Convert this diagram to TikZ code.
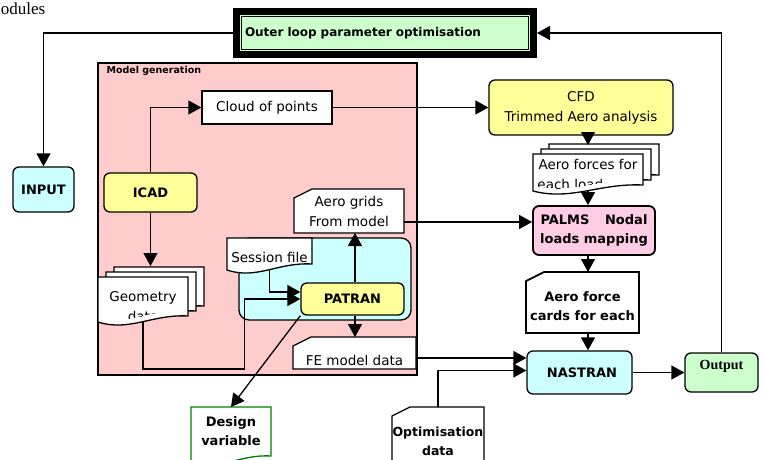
\documentclass[tikz,border=0pt]{standalone}
\usepackage{fontspec}
\setmainfont{DejaVu Sans}
\newfontfamily\timesfont{Liberation Serif}
\usepackage{tikz}
\usetikzlibrary{positioning,calc,arrows.meta}

\definecolor{cyanfill}{HTML}{CCFFFF}
\definecolor{yellowfill}{HTML}{FFFF99}
\definecolor{pinkfill}{HTML}{FFCCCC}
\definecolor{greenfill}{HTML}{CCFFCC}
\definecolor{palmsfill}{HTML}{FFCCE6}
\definecolor{designgreen}{HTML}{008000}

% outline of a page with a wavy lower edge, #2 is an offset
\newcommand{\wavepath}[2]{($(#1.north west)+#2$) -- ($(#1.north east)+#2$) -- ($(#1.south east)+(0,-6)+#2$) .. controls ($(#1.south east)!0.4!(#1.south west)+(0,-8)+#2$) and ($(#1.south west)!0.35!(#1.south east)+(0,10)+#2$) .. ($(#1.south west)+#2$) -- cycle}
\newcommand{\wavedoc}[5][(0,-6)]{%
  \path[#3] \wavepath{#2}{(0,0)};
  \begin{scope}
  \clip \wavepath{#2}{#1};
  \node[#4](#2text) at (#2.center){#5};
  \end{scope}}
\newcommand{\stackdoc}[3]{%
  \path[docline] \wavepath{#1}{(16,-10)};
  \path[docline] \wavepath{#1}{(8,-5)};
  \wavedoc{#1}{docline}{#2}{#3}}
% page with the upper left corner cut off
\newcommand{\carddoc}[4]{%
  \path[#2] ([yshift=-9pt]#1.north west) -- ([xshift=18pt]#1.north west) -- (#1.north east) -- (#1.south east) -- (#1.south west) -- cycle;
  \node[#3](#1text) at (#1.center){#4};}

\begin{document}
\begin{tikzpicture}[x=1pt,y=-1pt,line width=1.3pt,
  flow/.style={draw,-{Triangle[length=13pt,width=14pt]}},
  normaltext/.style={font=\fontsize{13.5}{20}\selectfont,align=center,inner sep=0pt},
  boldtext/.style={font=\bfseries\fontsize{13}{19.5}\selectfont,align=center,inner sep=0pt},
  box/.style={draw,rectangle,inner sep=0pt},
  roundbox/.style={box,rounded corners=6pt},
  frame/.style={rectangle,inner sep=0pt,outer sep=0pt},
  docline/.style={draw,fill=white}]
\useasboundingbox (0,0) rectangle (764,459);
\node[font=\timesfont\fontsize{17}{20}\selectfont,anchor=base east,inner sep=0pt](modules) at (46,14){Modules};
\node[box,fill=greenfill,line width=7pt,minimum width=297pt,minimum height=43pt,text width=280pt,align=left,
  font=\bfseries\fontsize{12}{14}\selectfont,
  path picture={\draw[line width=1pt] ([shift={(5pt,-5pt)}]path picture bounding box.north west) rectangle ([shift={(-5pt,5pt)}]path picture bounding box.south east);}](outer) at (385,33){Outer loop parameter optimisation};
\node[roundbox,boldtext,fill=cyanfill,minimum width=61pt,minimum height=45pt](input) at (43.5,189.5){INPUT};

% model generation
\node[box,fill=pinkfill,minimum width=319pt,minimum height=312pt](modelgen) at (257.5,219){};
\node[font=\bfseries\fontsize{9.5}{11}\selectfont,anchor=north west,inner sep=0pt](modelgenlabel) at (106,66){Model generation};
\node[box,normaltext,fill=white,minimum width=130pt,minimum height=33pt](cloud) at (267,107.5){Cloud of points};
\node[roundbox,boldtext,fill=yellowfill,minimum width=93pt,minimum height=39pt](icad) at (150.5,192.5){ICAD};
\node[frame,minimum width=90pt,minimum height=45pt](geom) at (143,299.5){};
\stackdoc{geom}{normaltext,yshift=-7.5pt}{Geometry\\data}
\node[box,rounded corners=10pt,fill=cyanfill,minimum width=172pt,minimum height=82pt](patranbox) at (325,279){};
\node[frame,minimum width=85pt,minimum height=32pt](session) at (269.5,254){};
\wavedoc[(0,0)]{session}{docline}{normaltext,yshift=-3pt}{Session file}
\node[roundbox,boldtext,fill=yellowfill,minimum width=103pt,minimum height=32pt](patran) at (352.5,299){PATRAN};
\node[frame,minimum width=110pt,minimum height=44pt](aerogrids) at (349,211){};
\carddoc{aerogrids}{docline}{normaltext}{Aero grids\\From model}
\node[frame,minimum width=123pt,minimum height=32pt](femodel) at (354.5,353){};
\carddoc{femodel}{docline}{normaltext,yshift=-7pt}{FE model data}

% below the model
\node[frame,minimum width=80pt,minimum height=55pt](design) at (231,434.5){};
\wavedoc{design}{docline,draw=designgreen}{boldtext,yshift=3.5pt}{Design\\variable}
\node[frame,minimum width=92pt,minimum height=60pt](optim) at (438,437){};
\carddoc{optim}{docline}{boldtext,font=\bfseries\fontsize{12.5}{19}\selectfont,yshift=-4pt}{Optimisation\\data}

% aero and structure chain
\node[roundbox,normaltext,fill=yellowfill,minimum width=184pt,minimum height=55pt](cfd) at (581,107.5){CFD\\Trimmed Aero analysis};
\node[frame,minimum width=110pt,minimum height=37pt](aeroforces) at (588,172.5){};
\stackdoc{aeroforces}{normaltext,yshift=-1.5pt}{Aero forces for\\each load case}
\node[roundbox,boldtext,fill=palmsfill,line width=1.8pt,minimum width=122pt,minimum height=49pt](palms) at (594,230.5){PALMS\hspace{1.2em}Nodal\\loads mapping};
\node[frame,minimum width=113pt,minimum height=61pt](aerocards) at (582.5,302.5){};
\carddoc{aerocards}{docline,line width=1.8pt}{boldtext,yshift=-3.5pt}{Aero force\\cards for each}
\node[roundbox,boldtext,fill=cyanfill,minimum width=105pt,minimum height=43pt](nastran) at (579.5,372.5){\hspace{5pt}NASTRAN};
\node[roundbox,fill=greenfill,minimum width=73pt,minimum height=39pt,text height=9.5pt,text depth=16pt,
  font=\timesfont\bfseries\fontsize{14}{16}\selectfont](output) at (721.5,372.5){Output};

\path[flow](outer.west)-|(input.north);
\path[flow](icad.north)|-(cloud.west);
\path[flow](cloud.east)--(cfd.west);
\path[flow](icad.south)--([yshift=11pt]icad.south|-geom.north);
\path[flow](cfd.south-|aeroforces.north)--([yshift=9pt]aeroforces.north);
\path[flow](aeroforces.south)--(aeroforces.south|-palms.north);
\path[flow]([yshift=-11pt]aerogrids.east)--([yshift=-11pt]aerogrids.east-|palms.west);
\path[flow]([xshift=-6pt]palms.south)--([xshift=-6pt]palms.south|-aerocards.north);
\path[flow]([xshift=5.5pt]aerocards.south)--([xshift=5.5pt]aerocards.south|-nastran.north);
\path[flow]([xshift=2.5pt]patran.north)--([xshift=2.5pt]patran.north|-aerogrids.south);
\path[flow]([xshift=2.5pt]patran.south)--([xshift=2.5pt]patran.south|-femodel.north);
\path[flow](session.south)|-([yshift=7pt]patran.west);
\path[flow](geom.south)--++(0,47)-|([xshift=-56pt]patran.west)--(patran.west);
\path[flow](patran.south west)--(design.north);
\path[flow]([yshift=-5pt]femodel.east)--([yshift=-5pt]femodel.east-|nastran.west);
\path[flow](optim.north)|-([yshift=2pt]nastran.west);
\path[flow](nastran.east)--(output.west);
\path[flow](output.north)|-(outer.east);
\end{tikzpicture}
\end{document}
